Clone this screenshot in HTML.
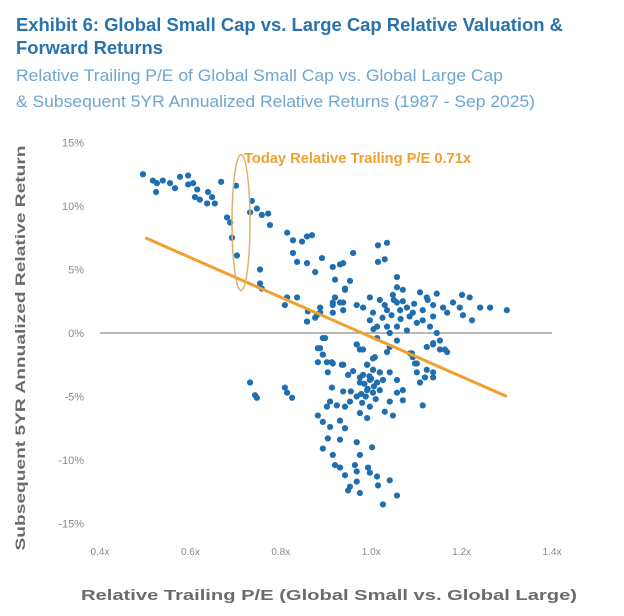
<!DOCTYPE html>
<html><head><meta charset="utf-8"><style>
html,body{margin:0;padding:0;background:#fff;}
svg{display:block;font-family:"Liberation Sans",sans-serif;}
</style></head><body>
<svg id="chart" width="624" height="616" viewBox="0 0 624 616" xmlns="http://www.w3.org/2000/svg">
<text x="16" y="31" font-size="18" font-weight="bold" fill="#2a72ac" textLength="547" lengthAdjust="spacingAndGlyphs">Exhibit 6: Global Small Cap vs. Large Cap Relative Valuation &amp;</text>
<text x="16" y="54" font-size="18" font-weight="bold" fill="#2a72ac" textLength="147" lengthAdjust="spacingAndGlyphs">Forward Returns</text>
<text x="16" y="81" font-size="16.5" fill="#6fa5cf" textLength="487" lengthAdjust="spacingAndGlyphs">Relative Trailing P/E of Global Small Cap vs. Global Large Cap</text>
<text x="16" y="107" font-size="16.5" fill="#6fa5cf" textLength="519" lengthAdjust="spacingAndGlyphs">&amp; Subsequent 5YR Annualized Relative Returns (1987 - Sep 2025)</text>
<g id="yticks"></g>
<g id="xticks"></g>
<g id="plot"></g>
<text transform="translate(25,348) rotate(-90)" text-anchor="middle" font-size="13.5" font-weight="bold" fill="#6b6b6b" textLength="405" lengthAdjust="spacingAndGlyphs">Subsequent 5YR Annualized Relative Return</text>
<text x="329" y="600" text-anchor="middle" font-size="14.5" font-weight="bold" fill="#6b6b6b" textLength="496" lengthAdjust="spacingAndGlyphs">Relative Trailing P/E (Global Small vs. Global Large)</text>
</svg>
<script>
const xTicks=[0.4,0.6,0.8,1.0,1.2,1.4];
const xTickLabels=["0.4x","0.6x","0.8x","1.0x","1.2x","1.4x"];
const yTicks=[15,10,5,0,-5,-10,-15];
const yTickLabels=["15%","10%","5%","0%","-5%","-10%","-15%"];
const trendX=[0.5,1.3];
const trendY=[7.5,-5.0];
const todayPE=0.712;
const todayReturnMid=8.7;
const peValues=[0.495,0.517,0.526,0.524,0.539,0.555,0.566,0.577,0.595,0.595,0.606,0.615,0.610,0.621,0.637,0.639,0.648,0.654,0.668,0.681,0.688,0.701,0.692,0.703,0.736,0.732,0.747,0.758,0.772,0.776,0.754,0.754,0.758,0.814,0.827,0.847,0.858,0.869,0.827,0.836,0.858,0.876,0.891,0.915,0.931,0.938,0.920,0.942,0.960,0.814,0.836,0.809,0.860,0.858,0.880,0.887,0.915,0.920,0.938,0.898,
1.015,1.035,1.015,1.030,1.057,0.953,0.942,1.057,1.070,1.048,1.108,1.145,1.123,1.201,1.218,1.241,1.263,1.300,0.915,0.931,0.938,0.915,0.968,0.982,0.997,1.004,1.019,1.035,1.057,1.064,1.079,1.092,1.114,1.137,1.159,1.181,1.196,1.203,1.223,1.168,1.137,1.114,0.887,0.858,0.876,0.997,1.013,1.035,1.041,1.057,1.079,1.101,1.130,1.145,1.137,1.123,1.152,1.163,0.893,0.887,0.893,0.902,0.968,0.975,1.013,1.041,1.035,1.057,1.086,1.092,1.101,1.123,1.137,1.004,0.991,1.004,1.019,0.975,0.915,0.938,
0.732,0.743,0.747,0.809,0.814,0.825,0.882,0.893,0.882,0.913,0.935,0.904,0.949,0.968,0.982,1.008,0.991,1.004,1.019,0.982,0.997,1.013,1.026,0.975,0.991,1.004,1.019,0.968,0.913,0.938,0.909,0.924,0.902,0.942,0.953,0.980,0.997,0.975,0.991,1.041,1.057,1.070,1.057,1.041,1.030,1.048,1.070,0.882,0.893,0.909,0.931,0.942,0.904,0.931,0.968,1.002,0.893,0.915,0.920,0.931,0.942,0.975,0.964,0.968,0.993,0.997,1.013,0.968,0.953,0.949,1.015,1.041,0.975,1.057,1.026,1.101,1.119,1.137,1.108,1.114,1.090,1.097,1.137,1.152,1.168,
0.985,0.992,1.000,0.988,1.006,0.978,0.996,1.010,0.960,0.955,1.025,1.045,1.065,1.085,1.005,1.030,1.050,1.070,1.095,1.125];
const returnValues=[12.5,12.0,11.8,11.1,12.0,11.8,11.4,12.3,12.4,11.7,11.8,11.3,10.7,10.5,10.2,11.1,10.7,10.2,11.9,9.1,8.7,11.6,7.5,6.1,10.4,9.5,9.8,9.3,9.4,8.5,5.0,3.9,3.5,7.9,7.3,7.2,7.6,7.7,6.3,5.6,5.5,4.8,5.9,5.2,5.4,5.5,4.2,3.4,6.3,2.8,2.8,2.2,1.7,0.9,1.4,2.0,2.2,2.8,2.4,-0.4,
6.9,7.1,5.6,5.8,4.4,4.1,3.5,3.6,3.4,3.0,3.2,3.1,2.8,3.0,2.8,2.0,2.0,1.8,2.4,2.4,1.8,1.6,2.2,2.0,2.8,1.6,2.6,1.8,2.4,1.8,2.0,1.6,1.8,2.2,2.0,2.4,2.0,1.4,1.0,1.6,1.3,1.0,1.6,0.9,1.2,1.0,0.5,0.5,0.0,0.5,0.2,0.8,0.5,0.0,-0.8,-1.1,-0.6,-1.3,-0.4,-1.2,-1.7,-2.3,-0.9,-1.3,-0.4,-1.1,-1.5,-0.6,-1.6,-1.9,-2.4,-2.9,-3.5,-2.0,-2.5,-2.9,-3.1,-3.5,-2.4,-2.5,
-3.9,-4.9,-5.1,-4.3,-4.7,-5.1,-1.2,-1.7,-2.3,-2.3,-2.5,-3.1,-3.3,-0.9,-1.3,-1.9,-2.5,-2.9,-3.1,-3.3,-3.7,-3.9,-3.7,-3.9,-4.5,-4.7,-4.5,-5.0,-4.3,-4.6,-5.4,-5.7,-5.8,-5.8,-5.4,-5.5,-5.8,-6.3,-6.7,-3.1,-3.7,-4.5,-4.7,-5.4,-6.2,-6.5,-5.3,-6.5,-7.0,-7.4,-6.9,-7.5,-8.3,-8.4,-8.6,-9.0,-9.1,-9.6,-10.4,-10.6,-11.2,-9.6,-10.4,-10.9,-10.6,-11.0,-11.3,-11.7,-12.1,-12.4,-12.0,-11.6,-12.6,-12.8,-13.5,-3.1,-3.5,-3.1,-3.9,-5.7,-1.6,-2.4,-0.9,-1.3,-1.5,
-4.0,-4.4,-3.6,-5.0,-4.2,-4.8,-3.4,-5.2,-3.0,-4.6,1.2,1.4,1.1,1.3,0.3,2.2,2.6,2.5,2.3,2.6];

const NS="http://www.w3.org/2000/svg";
const sx=v=>100+(v-0.4)*452;
const sy=v=>333-v*12.7;
function mk(tag,attrs,parent){const e=document.createElementNS(NS,tag);for(const k in attrs)e.setAttribute(k,attrs[k]);parent.appendChild(e);return e;}
const yg=document.getElementById('yticks'),xg=document.getElementById('xticks'),pg=document.getElementById('plot');
yTicks.forEach((t,i)=>{const e=mk('text',{x:84,y:sy(t)+4,'text-anchor':'end','font-size':'11',fill:'#8a8a8a'},yg);


e.textContent=yTickLabels[i];});
xTicks.forEach((t,i)=>{const e=mk('text',{x:sx(t),y:555,'text-anchor':'middle','font-size':'10',fill:'#8a8a8a'},xg);


e.textContent=xTickLabels[i];});
const zl=mk('line',{x1:sx(0.4),x2:sx(1.4),y1:sy(0),y2:sy(0),stroke:'#8c8c8c','stroke-width':'1.2'},pg);


peValues.forEach((v,i)=>{const c=mk('circle',{cx:sx(v),cy:sy(returnValues[i]),r:'3.1',fill:'#1f6fb0'},pg);

});
const tl=mk('line',{x1:sx(trendX[0]),y1:sy(trendY[0]),x2:sx(trendX[1]),y2:sy(trendY[1]),stroke:'#f0a02c','stroke-width':'3'},pg);


const el=mk('ellipse',{cx:sx(todayPE),cy:sy(todayReturnMid),rx:'9',ry:'68',fill:'none',stroke:'#e0b070','stroke-width':'1.5'},pg);


const at=mk('text',{x:sx(todayPE)+3,y:163,'font-size':'14.5','font-weight':'bold',fill:'#f0a030',textLength:'227',lengthAdjust:'spacingAndGlyphs'},pg);


at.textContent='Today Relative Trailing P/E 0.71x';
</script>
</body></html>
